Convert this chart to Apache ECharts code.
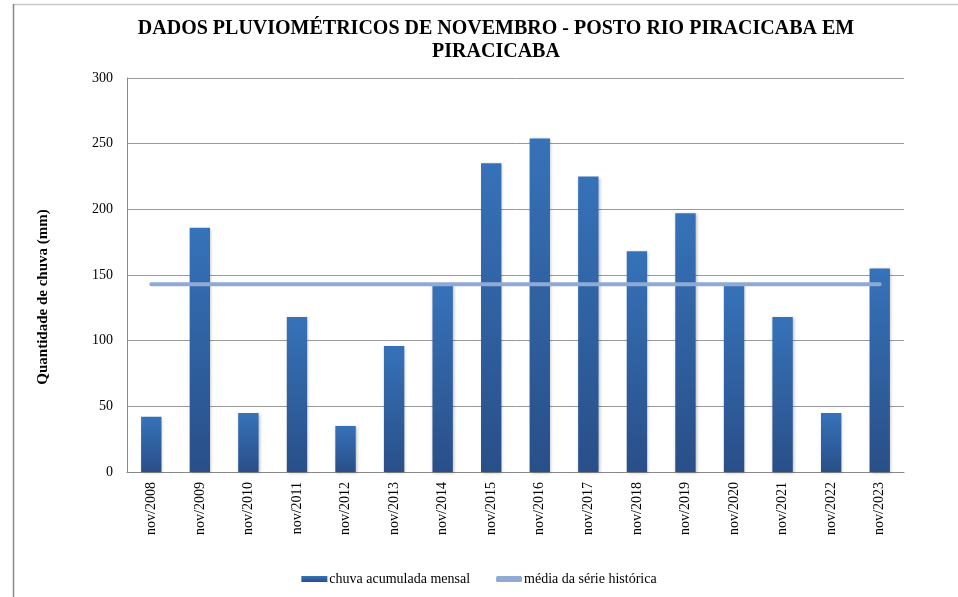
<!DOCTYPE html>
<html>
<head>
<meta charset="utf-8">
<script src="https://cdn.jsdelivr.net/npm/echarts@6/dist/echarts.min.js"></script>
<style>
html,body{margin:0;padding:0;background:#fff;}
#c{width:958px;height:597px;}
</style>
</head>
<body>
<div id="c"></div>
<script>
const categories = ['nov/2008','nov/2009','nov/2010','nov/2011','nov/2012','nov/2013','nov/2014','nov/2015','nov/2016','nov/2017','nov/2018','nov/2019','nov/2020','nov/2021','nov/2022','nov/2023'];
const rainfall = [42,186,45,118,35,96,143,235,254,225,168,197,143,118,45,155];
const historicalMean = [143,143,143,143,143,143,143,143,143,143,143,143,143,143,143,143];
const yTicks = [0,50,100,150,200,250,300];

const font = '"Liberation Serif","Times New Roman",serif';
const chart = echarts.init(document.getElementById('c'), null, {renderer:'canvas'});
chart.setOption({
  backgroundColor:'#fff',
  animation:false,
  title:{
    text:'DADOS PLUVIOMÉTRICOS DE NOVEMBRO - POSTO RIO PIRACICABA EM\nPIRACICABA',
    left:491, top:12, textAlign:'center',
    textStyle:{fontFamily:font, fontWeight:'bold', fontSize:20, color:'#000', lineHeight:23}
  },
  graphic:[
    {type:'line', shape:{x1:13,y1:4.5,x2:958,y2:4.5}, style:{stroke:'#c8c8c8',lineWidth:1.5}},
    {type:'line', shape:{x1:13.5,y1:4,x2:13.5,y2:597}, style:{stroke:'#888',lineWidth:1.5}},
    {type:'text', x:43, y:297, rotation:Math.PI/2,
     style:{text:'Quantidade de chuva (mm)', fontFamily:font, fontWeight:'bold', fontSize:15, fill:'#000', align:'center', verticalAlign:'middle'}}
  ],
  legend:{
    bottom:6, left:'center',
    itemWidth:26, itemHeight:6, itemGap:26,
    textStyle:{fontFamily:font, fontSize:14, color:'#000', padding:[0,0,0,-3]},
    data:[{name:'chuva acumulada mensal', icon:'rect'},{name:'média da série histórica', icon:'roundRect'}]
  },
  grid:{left:127, right:54, top:78, bottom:125},
  xAxis:{
    type:'category', data:categories,
    axisLine:{lineStyle:{color:'#888'}},
    axisTick:{show:false},
    axisLabel:{rotate:90, fontFamily:font, fontSize:14, color:'#000', margin:10, interval:0}
  },
  yAxis:{
    type:'value', min:yTicks[0], max:yTicks[yTicks.length-1], interval:50,
    axisLine:{show:true, lineStyle:{color:'#888'}},
    axisTick:{show:false},
    axisLabel:{fontFamily:font, fontSize:14, color:'#000', margin:14},
    splitLine:{lineStyle:{color:'#999', width:1}}
  },
  series:[
    {
      name:'chuva acumulada mensal', type:'bar', data:rainfall, barWidth:'42%',
      itemStyle:{
        color:new echarts.graphic.LinearGradient(0,0,0,1,[{offset:0,color:'#3672b9'},{offset:1,color:'#294f88'}]),
        shadowColor:'rgba(0,0,0,0.25)', shadowBlur:3, shadowOffsetX:1, shadowOffsetY:1
      }
    },
    {
      name:'média da série histórica', type:'line', data:historicalMean,
      symbol:'none', z:5,
      lineStyle:{color:'#8eaad5', width:4, cap:'round'},
      itemStyle:{color:'#8eaad5'}
    }
  ]
});
</script>
</body>
</html>
